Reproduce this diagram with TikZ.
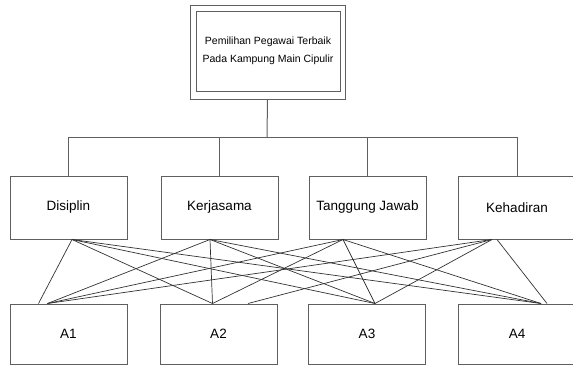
\documentclass[tikz,border=0pt]{standalone}
\usepackage{fontspec}
\setmainfont{Liberation Sans}
\definecolor{garis}{RGB}{95,95,95}
\definecolor{garisgelap}{RGB}{50,50,50}
\begin{document}
\begin{tikzpicture}[x=1pt,y=-1pt,
  kotak/.style={draw=garis,line width=1pt,rectangle,minimum width=117pt,minimum height=63pt,inner sep=0pt,font=\fontsize{13.5}{16}\selectfont},
  alternatif/.style={kotak,minimum height=60pt},
  cabang/.style={draw=garis,line width=1pt},
  hubung/.style={draw=garisgelap,line width=0.7pt}]
\useasboundingbox (0,0) rectangle (573,365);
\clip (0,0) rectangle (573,365);
% tujuan
\node[draw=garis,line width=1pt,minimum width=155pt,minimum height=94pt,inner sep=0pt] (luar) at (267.5,52) {};
\node[draw=garis,line width=1pt,minimum width=144pt,minimum height=80pt,inner sep=0pt,align=center,
  font=\fontsize{10.5}{18}\selectfont] (tujuan) at (268,51) {Pemilihan Pegawai Terbaik\\Pada Kampung Main Cipulir};
% kriteria
\node[kotak] (D) at (68.5,207.5) {Disiplin};
\node[kotak] (K) at (219.5,207.5) {Kerjasama};
\node[kotak] (T) at (367.5,207.5) {Tanggung Jawab};
\node[kotak] (H) at (517,207.5) {Kehadiran};
% alternatif
\node[alternatif] (A1) at (68.5,334) {A1};
\node[alternatif] (A2) at (218.5,334) {A2};
\node[alternatif] (A3) at (367,334) {A3};
\node[alternatif] (A4) at (517,334) {A4};
% pohon
\coordinate (simpul) at (267,137);
\draw[cabang] (luar.south) -- (simpul);
\foreach \n in {D,K,T,H}
  \draw[cabang] (\n.north) |- (simpul);
% titik hubung
\coordinate (d) at ([xshift=3.5pt]D.south);
\coordinate (k) at ([xshift=-9.5pt]K.south);
\coordinate (t) at ([xshift=-24.5pt]T.south);
\coordinate (h) at ([xshift=-25pt]H.south);
\coordinate (h') at ([xshift=-20pt]H.south);
\coordinate (a1') at ([xshift=-30pt]A1.north);
\coordinate (a1) at ([xshift=-21pt]A1.north);
\coordinate (a2) at ([xshift=-6pt]A2.north);
\coordinate (a2') at ([xshift=29.5pt]A2.north);
\coordinate (a3) at ([xshift=8pt]A3.north);
\coordinate (a4) at ([xshift=24pt]A4.north);
\coordinate (a4') at ([xshift=30pt]A4.north);
\foreach \k/\a in {d/a1',d/a2,d/a3,d/a4,
                   k/a1,k/a2,k/a3,k/a4,
                   t/a1,t/a2,t/a3,t/a4,
                   h/a1,h/a2',h/a3,h'/a4'}
  \draw[hubung] (\k) -- (\a);
\end{tikzpicture}
\end{document}
